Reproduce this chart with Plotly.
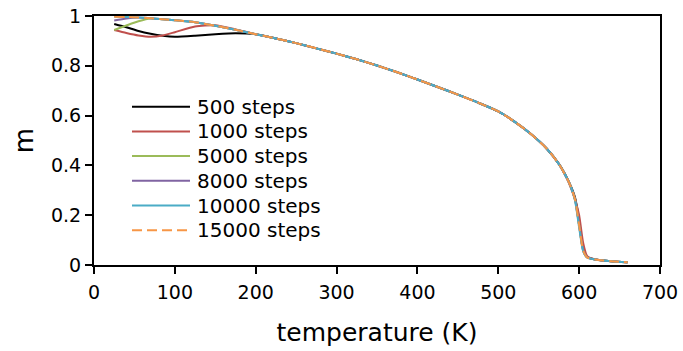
import plotly.graph_objects as go

# Temperatures (K) at which the magnetisation was sampled
temperature = [25, 40, 55, 70, 85, 100, 125, 150, 175, 200, 225, 250, 275, 300,
               325, 350, 375, 400, 425, 450, 475, 500, 520, 540, 560, 575, 585,
               590, 595, 600, 605, 610, 620, 640, 660]

m_500 = [0.968, 0.955, 0.940, 0.929, 0.921, 0.917, 0.921, 0.927, 0.931, 0.927,
         0.910, 0.891, 0.870, 0.849, 0.826, 0.801, 0.774, 0.745, 0.715, 0.684,
         0.652, 0.617, 0.576, 0.527, 0.467, 0.406, 0.350, 0.315, 0.270, 0.180,
         0.066, 0.032, 0.022, 0.015, 0.011]
m_1000 = [0.944, 0.932, 0.922, 0.917, 0.922, 0.935, 0.958, 0.963, 0.946, 0.927,
          0.910, 0.891, 0.870, 0.849, 0.826, 0.801, 0.774, 0.745, 0.715, 0.684,
          0.652, 0.617, 0.576, 0.527, 0.467, 0.405, 0.346, 0.308, 0.262, 0.200,
          0.088, 0.035, 0.022, 0.015, 0.011]
m_5000 = [0.944, 0.962, 0.979, 0.990, 0.987, 0.983, 0.975, 0.961, 0.945, 0.927,
          0.910, 0.891, 0.870, 0.849, 0.826, 0.801, 0.774, 0.745, 0.715, 0.684,
          0.652, 0.617, 0.576, 0.527, 0.467, 0.405, 0.348, 0.312, 0.262, 0.160,
          0.058, 0.030, 0.022, 0.015, 0.011]
m_8000 = [0.982, 0.990, 0.994, 0.991, 0.987, 0.983, 0.975, 0.961, 0.945, 0.927,
          0.910, 0.891, 0.870, 0.849, 0.826, 0.801, 0.774, 0.745, 0.715, 0.684,
          0.652, 0.617, 0.576, 0.527, 0.467, 0.405, 0.348, 0.312, 0.262, 0.160,
          0.058, 0.030, 0.022, 0.015, 0.011]
m_10000 = [0.997, 0.996, 0.994, 0.991, 0.987, 0.983, 0.975, 0.961, 0.945, 0.927,
           0.910, 0.891, 0.870, 0.849, 0.826, 0.801, 0.774, 0.745, 0.715, 0.684,
           0.652, 0.617, 0.576, 0.527, 0.467, 0.405, 0.348, 0.312, 0.258, 0.150,
           0.055, 0.030, 0.022, 0.015, 0.011]
m_15000 = [0.997, 0.996, 0.994, 0.991, 0.987, 0.983, 0.975, 0.961, 0.945, 0.927,
           0.910, 0.891, 0.870, 0.849, 0.826, 0.801, 0.774, 0.745, 0.715, 0.684,
           0.652, 0.617, 0.576, 0.527, 0.467, 0.405, 0.348, 0.312, 0.262, 0.160,
           0.058, 0.030, 0.022, 0.015, 0.011]

series_names = ["500 steps", "1000 steps", "5000 steps", "8000 steps",
                "10000 steps", "15000 steps"]
series_values = [m_500, m_1000, m_5000, m_8000, m_10000, m_15000]
series_colors = ["#000000", "#c0504d", "#9bbb59", "#8064a2", "#4bacc6", "#f79646"]
series_dash = ["solid", "solid", "solid", "solid", "solid", "10px,5px"]

FONT = "DejaVu Sans"

fig = go.Figure()
for name, vals, color, dash in zip(series_names, series_values, series_colors, series_dash):
    fig.add_trace(go.Scatter(
        x=temperature, y=vals, name=name, mode="lines",
        line=dict(color=color, width=2, dash=dash, shape="spline", smoothing=0.6),
        showlegend=False,
    ))

# Hand-placed legend (frameless, long line samples)
W, H = 683, 351
L, R, T, B = 94, 23, 16, 86
pw, ph = W - L - R, H - T - B


def px_to_paper(px, py):
    return (px - L) / pw, (H - B - py) / ph


row_y = [106.7, 131.4, 156.1, 180.8, 205.5, 230.2]
for name, color, dash, py in zip(series_names, series_colors, series_dash, row_y):
    x0, y0 = px_to_paper(132, py)
    x1, _ = px_to_paper(190, py)
    fig.add_shape(type="line", xref="paper", yref="paper", x0=x0, x1=x1, y0=y0, y1=y0,
                  line=dict(color=color, width=2, dash=dash))
    tx, _ = px_to_paper(195, py)
    fig.add_annotation(xref="paper", yref="paper", x=tx, y=y0, text=name,
                       showarrow=False, xanchor="left", yanchor="middle",
                       font=dict(family=FONT, size=20, color="#000000"))

fig.update_layout(
    width=W, height=H,
    margin=dict(l=L, r=R, t=T, b=B),
    paper_bgcolor="white", plot_bgcolor="white",
    font=dict(family=FONT, color="#000000"),
    showlegend=False,
)
fig.update_xaxes(
    range=[0, 700], dtick=100, tick0=0, automargin=False,
    showgrid=False, zeroline=False,
    showline=True, linecolor="black", linewidth=2, mirror=True,
    ticks="outside", ticklen=7, tickwidth=1.5, tickcolor="black",
    tickfont=dict(family=FONT, size=19), ticklabelstandoff=2,
    title=dict(text="temperature (K)", font=dict(family=FONT, size=25), standoff=22),
)
fig.update_yaxes(
    range=[0, 1], dtick=0.2, tick0=0, automargin=False,
    showgrid=False, zeroline=False,
    showline=True, linecolor="black", linewidth=2, mirror=True,
    ticks="outside", ticklen=7, tickwidth=1.5, tickcolor="black",
    tickfont=dict(family=FONT, size=19),
    title=dict(text="m", font=dict(family=FONT, size=26), standoff=10),
)

fig.write_html("out.html")
